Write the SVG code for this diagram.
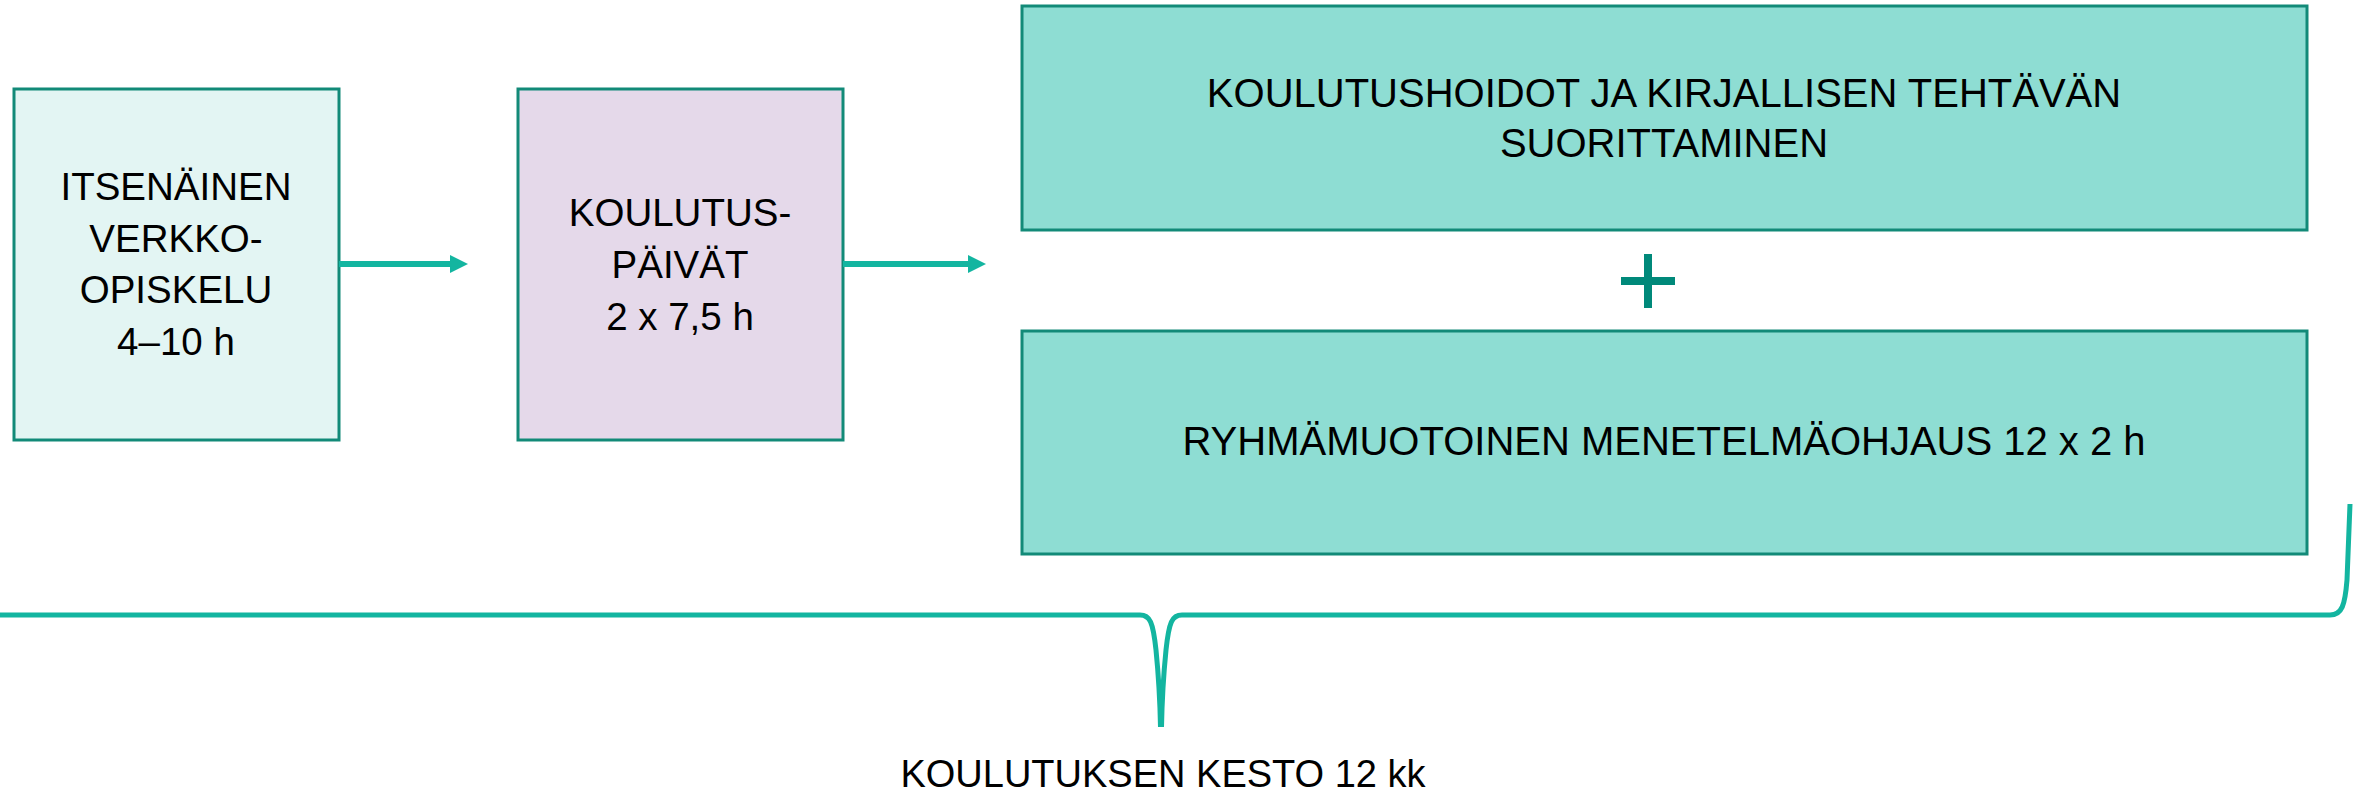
<svg xmlns="http://www.w3.org/2000/svg" width="2362" height="792" viewBox="0 0 2362 792">
<style>
.box{stroke:#128A78;stroke-width:3}
.t{font-family:"Liberation Sans",Arial,sans-serif;font-size:38.5px;fill:#000;text-anchor:middle}
.tw{font-size:40px}
.brace{fill:none;stroke:#13B5A0;stroke-width:5;stroke-linecap:butt}
</style>
<rect width="2362" height="792" fill="#fff"/>
<g id="node-verkko">
<rect class="box" x="14" y="89" width="325" height="351" fill="#E3F5F3"/>
<text class="t" x="176" y="200">ITSENÄINEN</text>
<text class="t" x="176" y="252">VERKKO-</text>
<text class="t" x="176" y="303">OPISKELU</text>
<text class="t" x="176" y="355">4–10 h</text>
</g>
<g id="node-paivat">
<rect class="box" x="518" y="89" width="325" height="351" fill="#E5D9EA"/>
<text class="t" x="680" y="226">KOULUTUS-</text>
<text class="t" x="680" y="278">PÄIVÄT</text>
<text class="t" x="680" y="330">2 x 7,5 h</text>
</g>
<g id="node-hoidot">
<rect class="box" x="1022" y="6" width="1285" height="224" fill="#8EDDD3"/>
<text class="t tw" x="1664" y="107">KOULUTUSHOIDOT JA KIRJALLISEN TEHTÄVÄN</text>
<text class="t tw" x="1664" y="157">SUORITTAMINEN</text>
</g>
<g id="plus">
<rect x="1644" y="254" width="8" height="54" fill="#00897A"/>
<rect x="1621" y="277" width="54" height="8" fill="#00897A"/>
</g>
<g id="node-ohjaus">
<rect class="box" x="1022" y="331" width="1285" height="223" fill="#8EDDD3"/>
<text class="t tw" x="1664" y="455">RYHMÄMUOTOINEN MENETELMÄOHJAUS 12 x 2 h</text>
</g>
<g id="connectors">
<path d="M339 264 H450" stroke="#13B5A0" stroke-width="6" fill="none"/>
<path d="M450 255 L468 264 L450 273 Z" fill="#13B5A0"/>
<path d="M843 264 H968" stroke="#13B5A0" stroke-width="6" fill="none"/>
<path d="M968 255 L986 264 L968 273 Z" fill="#13B5A0"/>
<path class="brace" d="M0 615 H1140 C1150 615 1153 622 1156 650 C1159 680 1160 700 1160.5 727"/>
<path class="brace" d="M1161.5 727 C1162 700 1163 680 1166 650 C1169 622 1172 615 1182 615 H2330 C2342 615 2345 605 2347 580 L2350 504"/>
</g>
<g id="label">
<text class="t" style="font-size:38px" x="1163" y="787">KOULUTUKSEN KESTO 12 kk</text>
</g>
</svg>
